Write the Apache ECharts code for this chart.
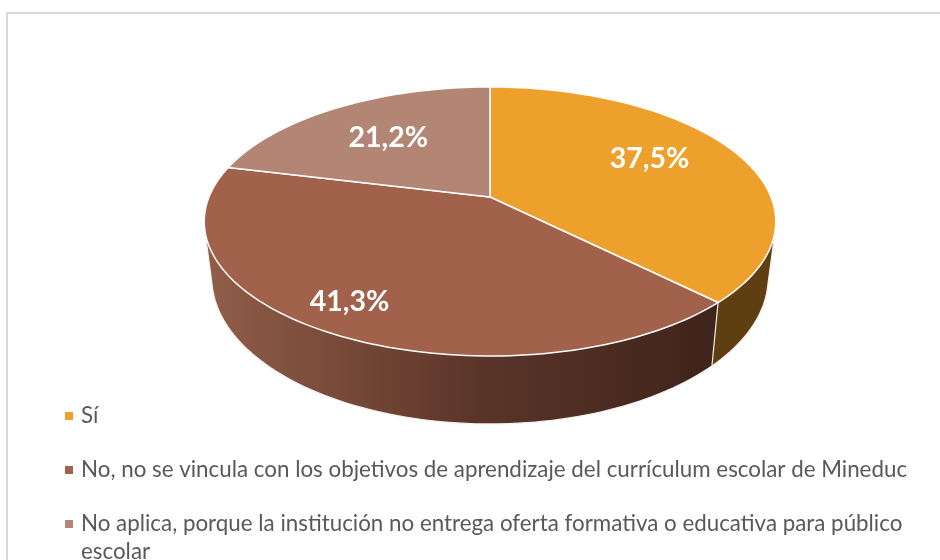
<!DOCTYPE html>
<html>
<head>
<meta charset="utf-8">
<style>html,body{margin:0;padding:0;background:#fff}#c{width:940px;height:560px}</style>
<script src="https://cdn.jsdelivr.net/npm/echarts@6/dist/echarts.min.js"></script>
</head>
<body>
<div id="c"></div>
<script>
const categories = [
  'Sí',
  'No, no se vincula con los objetivos de aprendizaje del currículum escolar de Mineduc',
  'No aplica, porque la institución no entrega oferta formativa o educativa para público\nescolar'
];
const seriesValues = [37.5, 41.3, 21.2];
const valueLabels = ['37,5%', '41,3%', '21,2%'];

const topColors = ['#eda12c', '#a2614b', '#b28575'];
const FONT = 'Lato, Carlito, "Open Sans", sans-serif';
const LEGEND_SIZE = 22.35;

// Perspective projection of the pie's two rims
const CX = 490, PERSP = -0.182;
const TOP_RIM = { r: 281, a: 94.2, b: 197 };
const BOTTOM_RIM = { r: 273.5, a: 95.6, b: 251.2 };
// Label placement: angle shift (deg) from slice middle, radial fraction
const labelPlace = [[-6, 0.682], [3, 0.82], [0, 0.643]];

function project(rim, deg, f) {
  const t = deg * Math.PI / 180, u = Math.sin(t) * f, v = -Math.cos(t) * f, w = 1 + PERSP * v;
  return [CX + rim.r * u / w, (rim.a * v + rim.b) / w];
}
function arc(rim, a0, a1) {
  const pts = [], n = Math.max(2, Math.ceil((a1 - a0) / 1.5));
  for (let i = 0; i <= n; i++) pts.push(project(rim, a0 + (a1 - a0) * i / n, 1));
  return pts;
}
function hull(points) {
  const p = points.slice().sort((a, b) => a[0] - b[0] || a[1] - b[1]);
  const cross = (o, a, b) => (a[0]-o[0])*(b[1]-o[1]) - (a[1]-o[1])*(b[0]-o[0]);
  const lo = [], up = [];
  for (const q of p) { while (lo.length > 1 && cross(lo[lo.length-2], lo[lo.length-1], q) <= 0) lo.pop(); lo.push(q); }
  for (const q of p.slice().reverse()) { while (up.length > 1 && cross(up[up.length-2], up[up.length-1], q) <= 0) up.pop(); up.push(q); }
  return lo.slice(0, -1).concat(up.slice(0, -1));
}
function sideFill(i) {
  if (i === 0) return '#5f3f11';
  if (i === 2) return '#7a5a4e';
  return new echarts.graphic.LinearGradient(204, 0, 712, 0, [
    { offset: 0, color: '#925e49' },
    { offset: 0.55, color: '#5a3428' },
    { offset: 1, color: '#3f241b' }
  ], true);
}
const total = seriesValues.reduce((s, v) => s + v, 0);
const starts = [];
seriesValues.reduce((acc, v, i) => { starts[i] = acc; return acc + v; }, 0);

function sliceRenderer(i) {
  return function (params, api) {
    const a0 = starts[i] / total * 360;
    const a1 = a0 + api.value(0) / total * 360;
    const centre = project(TOP_RIM, 0, 0);
    const mid = (a0 + a1) / 2 + labelPlace[i][0];
    const lp = project(TOP_RIM, mid, labelPlace[i][1]);
    const sidePts = hull(arc(TOP_RIM, a0, a1).concat(arc(BOTTOM_RIM, a0, a1)));
    const topPts = [centre].concat(arc(TOP_RIM, a0, a1));
    return {
      type: 'group',
      children: [
        { type: 'polygon', z2: 1 + i, shape: { points: sidePts },
          style: { fill: sideFill(i), stroke: '#f2f0ee', lineWidth: 1.2, lineJoin: 'round' } },
        { type: 'polygon', z2: 10, shape: { points: topPts },
          style: { fill: topColors[i], stroke: '#ffffff', lineWidth: 1.5, lineJoin: 'round' } },
        { type: 'text', z2: 20, x: lp[0] + 0.5, y: lp[1] + 1.5,
          style: { text: valueLabels[i], fill: '#ffffff', font: 'bold 28.5px ' + FONT, align: 'center', verticalAlign: 'middle' } }
      ]
    };
  };
}

const chart = echarts.init(document.getElementById('c'), null, { renderer: 'canvas' });
chart.setOption({
  animation: false,
  backgroundColor: '#ffffff',
  legend: {
    orient: 'vertical', left: 65, top: 405, padding: 0, itemGap: 32,
    itemWidth: 8, itemHeight: 8, icon: 'rect', selectedMode: false,
    data: categories,
    formatter: n => n.split('\n')[0],
    textStyle: { fontFamily: FONT, fontSize: LEGEND_SIZE, color: '#595959', padding: [0, 0, 0, 3] }
  },
  graphic: [
    { type: 'rect', silent: true, shape: { x: 7, y: 13, width: 1200, height: 900 },
      style: { fill: 'none', stroke: '#d9d9d9', lineWidth: 2 } },
    { type: 'text', silent: true, x: 81, y: 552,
      style: { text: categories[2].split('\n')[1], fill: '#595959', font: LEGEND_SIZE + 'px ' + FONT, verticalAlign: 'middle' } }
  ],
  series: categories.map((name, i) => ({
    type: 'custom', name, coordinateSystem: 'none',
    itemStyle: { color: topColors[i] },
    data: [[seriesValues[i]]],
    renderItem: sliceRenderer(i)
  }))
});
</script>
</body>
</html>
